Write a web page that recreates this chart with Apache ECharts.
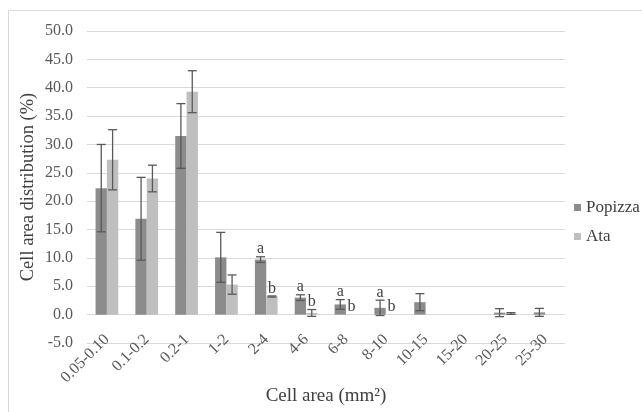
<!DOCTYPE html>
<html><head><meta charset="utf-8">
<script src="https://cdn.jsdelivr.net/npm/echarts@6/dist/echarts.min.js"></script>
<style>html,body{margin:0;padding:0;background:#fff}#c{width:642px;height:412px}</style>
</head><body><div id="c"></div>
<script>
var categories = ['0.05-0.10','0.1-0.2','0.2-1','1-2','2-4','4-6','6-8','8-10','10-15','15-20','20-25','25-30'];
var popizza    = [22.3, 16.9, 31.5, 10.1, 9.7, 3.0, 1.8, 1.2, 2.2, null, 0.35, 0.4];
var popizzaErr = [7.7, 7.3, 5.7, 4.4, 0.5, 0.5, 0.85, 1.35, 1.5, null, 0.7, 0.7];
var ata        = [27.3, 24.0, 39.3, 5.3, 3.2, 0.3, 0, 0, null, null, 0.2, null];
var ataErr     = [5.3, 2.35, 3.7, 1.7, 0.1, 0.6, null, null, null, null, 0.15, null];
var sigPopizza = ['', '', '', '', 'a', 'a', 'a', 'a', '', '', '', ''];
var sigAta     = ['', '', '', '', 'b', 'b', 'b', 'b', '', '', '', ''];
var yTicks = {min: -5, max: 50, interval: 5};

var FONT = '"Liberation Serif", "Times New Roman", serif';
var GAP = 0.43;

function makeCustom(vals, errs, sigs, side) {
  var data = vals.map(function (v, i) { return [i, v, errs[i], sigs[i]]; });
  return {
    type: 'custom',
    silent: true,
    z: 5,
    data: data,
    renderItem: function (params, api) {
      var i = api.value(0);
      var v = data[params.dataIndex][1];
      var e = data[params.dataIndex][2];
      var s = data[params.dataIndex][3];
      if (v == null) return null;
      var band = api.size([1, 0])[0];
      var bw = band * (1 - GAP) / 2;
      var c = api.coord([i, v]);
      var x = c[0] + side * bw / 2;
      var children = [];
      var topY = c[1];
      if (e != null) {
        var t = api.coord([i, v + e])[1];
        var b = api.coord([i, v - e])[1];
        var cap = 4.5;
        var st = {stroke: '#595959', lineWidth: 1.3};
        children.push({type: 'line', shape: {x1: x, y1: t, x2: x, y2: b}, style: st});
        children.push({type: 'line', shape: {x1: x - cap, y1: t, x2: x + cap, y2: t}, style: st});
        children.push({type: 'line', shape: {x1: x - cap, y1: b, x2: x + cap, y2: b}, style: st});
        topY = Math.min(t, c[1]);
      }
      if (s) {
        children.push({type: 'text', style: {text: s, x: x, y: topY + 0.5, align: 'center', verticalAlign: 'bottom', font: '16px ' + FONT, fill: '#404040'}});
      }
      return {type: 'group', children: children};
    }
  };
}

var chart = echarts.init(document.getElementById('c'));
chart.setOption({
  animation: false,
  textStyle: {fontFamily: FONT},
  graphic: [{type: 'rect', shape: {x: 8.5, y: 10.5, width: 700, height: 500}, style: {fill: 'none', stroke: '#d9d9d9', lineWidth: 1}, z: -10}],
  grid: {left: 87, right: 77, top: 31, bottom: 69, outerBoundsMode: 'none', containLabel: false},
  legend: {
    orient: 'vertical', left: 569, top: 194, itemWidth: 7, itemHeight: 7, itemGap: 12,
    icon: 'rect',
    textStyle: {fontFamily: FONT, fontSize: 17, color: '#404040'},
    data: ['Popizza', 'Ata']
  },
  xAxis: {
    type: 'category', data: categories,
    axisLine: {show: false, onZero: false}, axisTick: {show: false},
    axisLabel: {rotate: 45, interval: 0, fontFamily: FONT, fontSize: 16, color: '#595959', margin: -6},
    name: 'Cell area (mm\u00b2)', nameLocation: 'middle', nameGap: 44, nameMoveOverlap: false,
    nameTextStyle: {fontFamily: FONT, fontSize: 19, color: '#404040'}
  },
  yAxis: {
    type: 'value', min: yTicks.min, max: yTicks.max, interval: yTicks.interval,
    axisLine: {show: false}, axisTick: {show: false},
    splitLine: {lineStyle: {color: '#d9d9d9', width: 1}},
    axisLabel: {formatter: function (v) { return v.toFixed(1); }, fontFamily: FONT, fontSize: 16, color: '#595959', margin: 14},
    name: 'Cell area distribution (%)', nameLocation: 'middle', nameGap: 49, nameRotate: 90, nameMoveOverlap: false,
    nameTextStyle: {fontFamily: FONT, fontSize: 18.5, color: '#404040'}
  },
  series: [
    {name: 'Popizza', type: 'bar', data: popizza, barGap: '0%', barCategoryGap: (GAP * 100) + '%', itemStyle: {color: '#8c8c8c'}},
    {name: 'Ata', type: 'bar', data: ata, barGap: '0%', barCategoryGap: (GAP * 100) + '%', itemStyle: {color: '#bfbfbf'}},
    makeCustom(popizza, popizzaErr, sigPopizza, -1),
    makeCustom(ata, ataErr, sigAta, 1)
  ]
});
</script></body></html>
